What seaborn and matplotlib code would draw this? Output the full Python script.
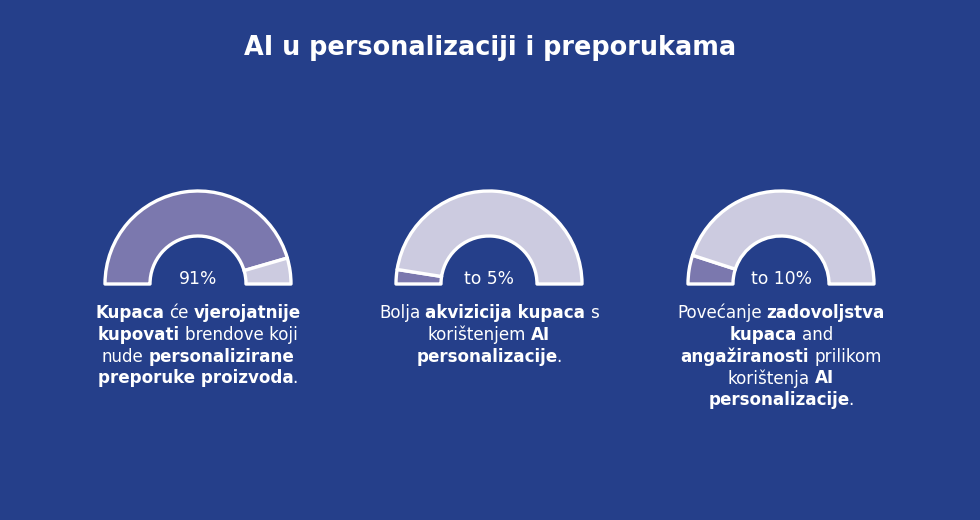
import matplotlib
matplotlib.use("Agg")
import matplotlib.pyplot as plt
import seaborn as sns

# chart data
title = "AI u personalizaciji i preporukama"
values = [91, 5, 10]
value_labels = ["91%", "to 5%", "to 10%"]
# each description: list of lines, each line a list of (text, bold)
descriptions = [
    [[("Kupaca", True), ("će", False), ("vjerojatnije", True)],
     [("kupovati", True), ("brendove koji", False)],
     [("nude", False), ("personalizirane", True)],
     [("preporuke proizvoda", True), (".", False)]],
    [[("Bolja", False), ("akvizicija kupaca", True), ("s", False)],
     [("korištenjem", False), ("AI", True)],
     [("personalizacije", True), (".", False)]],
    [[("Povećanje", False), ("zadovoljstva", True)],
     [("kupaca", True), ("and", False)],
     [("angažiranosti", True), ("prilikom", False)],
     [("korištenja", False), ("AI", True)],
     [("personalizacije", True), (".", False)]],
]

BG = "#253F8A"
FILL = "#7B78AE"
REST = "#CCCBE0"
FONT = ["DejaVu Sans"]

sns.set_theme(style="white")
plt.rcParams["font.family"] = FONT

W, H = 980, 520
fig = plt.figure(figsize=(W / 100, H / 100), dpi=100, facecolor=BG)
ax = fig.add_axes([0, 0, 1, 1])
ax.set_facecolor(BG)

centers_x = [198, 489, 781]
center_y = H - 284
r_out, ring_w = 93, 45

for cx, v in zip(centers_x, values):
    wedges, _ = ax.pie([v, 100 - v, 100], startangle=180, counterclock=False,
                       colors=[FILL, REST, BG], radius=r_out, center=(cx, center_y),
                       wedgeprops=dict(width=ring_w, edgecolor="white", linewidth=2.4,
                                       joinstyle="round"))
    wedges[2].set_visible(False)

ax.set_xlim(0, W)
ax.set_ylim(0, H)
ax.set_aspect("equal")
ax.axis("off")

fig.text(0.5, 1 - 48 / H, title, ha="center", va="center", color="white",
         fontsize=18.4, fontweight="bold")

for cx, lab in zip(centers_x, value_labels):
    fig.text(cx / W, 1 - 279 / H, lab, ha="center", va="center", color="white",
             fontsize=12.3)

fig.canvas.draw()
renderer = fig.canvas.get_renderer()


def text_width(s, bold, size):
    t = fig.text(0, 0, s, fontsize=size, fontweight="bold" if bold else "normal")
    w = t.get_window_extent(renderer).width
    t.remove()
    return w


DESC_SIZE = 12.1
space_w = 0.3 * DESC_SIZE * 100 / 72
line_h = 21.8
first_y = 313

for cx, desc in zip(centers_x, descriptions):
    for li, line in enumerate(desc):
        widths = [text_width(s, b, DESC_SIZE) for s, b in line]
        gaps = [-1.5 if s == "." else space_w for s, _ in line[1:]]
        total = sum(widths) + sum(gaps)
        x = cx - total / 2
        y = first_y + li * line_h
        for i, ((s, b), w) in enumerate(zip(line, widths)):
            if i > 0:
                x += gaps[i - 1]
            fig.text(x / W, 1 - y / H, s, ha="left", va="center", color="white",
                     fontsize=DESC_SIZE, fontweight="bold" if b else "normal")
            x += w

fig.savefig("out.png", dpi=100, facecolor=BG)
